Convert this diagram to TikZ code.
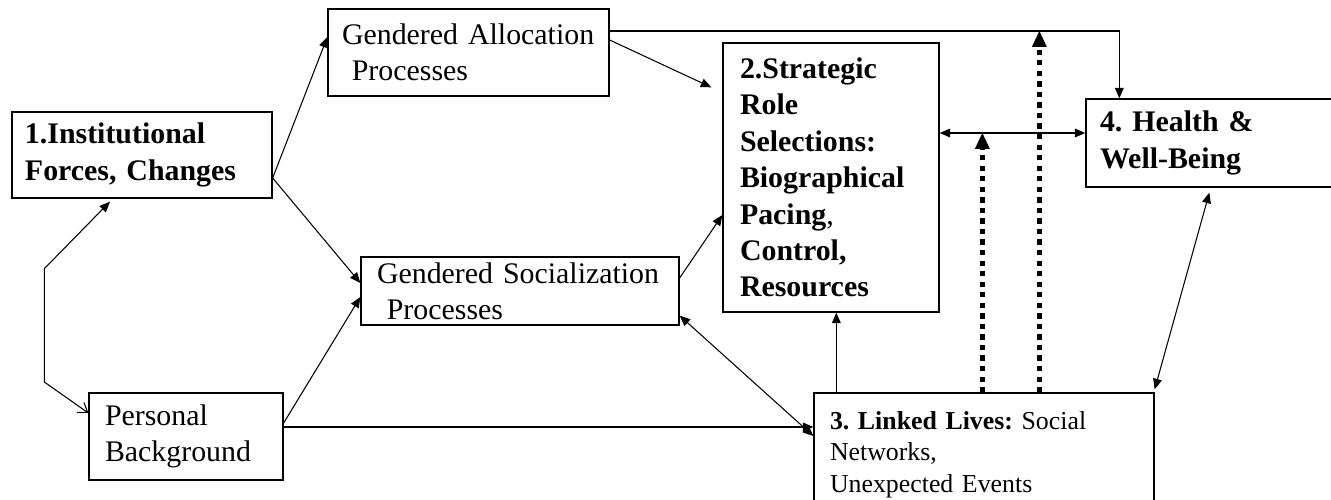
\documentclass[tikz,border=0pt]{standalone}
\usepackage{fontspec}
\setmainfont{Liberation Serif}
\usepackage{tikz}
\usetikzlibrary{arrows.meta,positioning}
\newcommand{\boxfont}{\fontsize{17}{20.7}\selectfont}
\newcommand{\smallboxfont}{\fontsize{14.7}{17.9}\selectfont}
\frenchspacing

\begin{document}
\begin{tikzpicture}[node distance=2cm,
    box/.style={rectangle, draw, line width=0.75pt, align=left, inner ysep=2pt, font=\boxfont},
    line/.style={draw, line width=0.6pt, -{Triangle[length=6pt,width=5pt]}},
    twoway/.style={line, {Triangle[length=6pt,width=5pt]}-{Triangle[length=6pt,width=5pt]}},
    dotline/.style={draw, line width=2.8pt, dash pattern=on 3pt off 3pt, -{Triangle[length=9pt,width=8.5pt,line width=0pt]}}]

    \useasboundingbox (0,0) rectangle (26.62,-10);
    \clip (0,0) rectangle (26.62,-10);

    % Left column
    \node [box, font=\boxfont\bfseries, minimum height=1.72cm, text width=4.68cm, inner xsep=0.26cm] (inst) at (2.84,-3.10) {1.Institutional\\Forces, Changes};
    \node [box, below of=inst, xshift=0.88cm, yshift=-3.63cm, minimum height=1.74cm, text width=3.24cm, inner xsep=0.32cm] (pers) {Personal\\Background};

    % Gendered processes
    \node [box, right of=inst, xshift=4.53cm, yshift=2.05cm, minimum height=1.74cm, text width=5.06cm, inner xsep=0.28cm] (alloc) {Gendered~Allocation\\\hspace*{0.33em}Processes};
    \node [box, right of=pers, xshift=4.68cm, yshift=2.91cm, minimum height=1.36cm, text width=5.72cm, inner xsep=0.32cm] (social) {Gendered~Socialization\\\hspace*{0.33em}Processes};

    % Roles, linked lives, outcome
    \node [box, font=\boxfont\bfseries, right of=alloc, xshift=5.25cm, yshift=-2.5cm, minimum height=5.38cm, text width=3.64cm, inner xsep=0.34cm] (strat) {2.Strategic\\Role\\Selections:\\Biographical\\Pacing{\mdseries,}\\Control,\\Resources};
    \node [box, font=\smallboxfont, below of=strat, xshift=3.06cm, yshift=-3.54cm, minimum height=2.46cm, text width=6.16cm, inner xsep=0.32cm] (linked) {\textbf{3. Linked Lives:} Social\\Networks,\\Unexpected Events};
    \node [box, font=\boxfont\bfseries, right of=strat, xshift=5.64cm, yshift=0.69cm, minimum height=1.76cm, text width=4.52cm, inner xsep=0.28cm] (health) {4. Health \&\\Well-Being};

    \coordinate (toprow) at ([yshift=0.43cm]alloc.east);
    \coordinate (midrow) at ([yshift=0.89cm]strat.east);
    \coordinate (loopup) at ([xshift=0.66cm,yshift=-1.4cm]inst.south west);
    \coordinate (loopdown) at ([xshift=-0.88cm,yshift=1.09cm]pers.west);

    % Connections
    \path [line, {Triangle[length=6pt,width=5pt]}-{Straight Barb[length=5pt,width=7pt]}] ([xshift=-0.64cm,yshift=-0.06cm]inst.south) -- (loopup) -- (loopdown) -- ([yshift=0.47cm]pers.west);
    \path [line] ([yshift=-0.46cm]inst.east) -- ([yshift=0.31cm]alloc.west);
    \path [line] ([yshift=-0.46cm]inst.east) -- ([yshift=0.16cm]social.west);
    \path [line] ([yshift=0.27cm]pers.east) -- ([yshift=-0.12cm]social.west);
    \path [line] ([yshift=0.19cm]pers.east) -- ([yshift=0.19cm]pers.east -| linked.west);
    \path [twoway] ([yshift=0.2cm]social.south east) -- ([yshift=0.37cm]linked.west);
    \path [line] ([yshift=0.25cm]alloc.east) -- ([xshift=-0.22cm,yshift=-0.9cm]strat.north west);
    \path [line] (toprow) -| ([xshift=0.68cm]health.north west);
    \path [line] ([yshift=0.26cm]social.east) -- ([yshift=-0.75cm]strat.west);
    \path [line] ([xshift=0.46cm]linked.north west) -- ([xshift=0.46cm]linked.north west |- strat.south);
    \path [twoway] (midrow) -- (midrow -| health.west);
    \path [twoway] ([xshift=2.48cm,yshift=-0.1cm]health.south west) -- ([yshift=0.06cm]linked.north east);

    % Dotted influences
    \path [dotline] ([xshift=3.38cm]linked.north west) -- ([xshift=3.38cm]linked.north west |- midrow);
    \path [dotline] ([xshift=4.52cm]linked.north west) -- ([xshift=4.52cm]linked.north west |- toprow);
\end{tikzpicture}
\end{document}
